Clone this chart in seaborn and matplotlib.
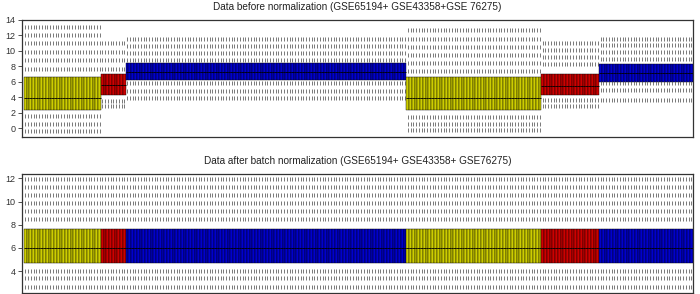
import numpy as np
import pandas as pd
import seaborn as sns
import matplotlib.pyplot as plt

# ---- data ----
seg_names = ["seg0", "seg1", "seg2", "seg3", "seg4", "seg5"]
seg_colors = ["#CDCD00", "#CD0000", "#0000CD", "#CDCD00", "#CD0000", "#0000CD"]
seg_counts = [28, 9, 102, 49, 21, 34]

before_q1 = [2.35, 4.28, 6.2, 2.33, 4.28, 6.0]
before_med = [3.95, 5.58, 7.3, 3.93, 5.45, 7.17]
before_q3 = [6.65, 7.0, 8.4, 6.57, 7.0, 8.3]
before_high = [
    [7.7, 8.8, 9.9, 11.0, 12.05, 13.1],
    [7.7, 8.8, 9.9, 11.0],
    [8.8, 9.7, 10.6, 11.5],
    [7.4, 8.4, 9.5, 10.5, 11.6, 12.7],
    [8.3, 9.2, 10.1, 11.0],
    [9.0, 9.9, 10.8, 11.6],
]
before_low = [
    [1.6, 0.5, -0.4],
    [3.5, 2.8],
    [5.9, 4.85, 3.9],
    [1.5, 0.5, -0.3],
    [3.6, 2.8],
    [5.9, 4.9, 3.7],
]

after_q1 = [4.68] * 6
after_med = [5.97] * 6
after_q3 = [7.64] * 6
after_high = [[8.5, 9.19, 9.85, 10.57, 11.23, 11.92]] * 6
after_low = [[4.04, 3.39, 2.66]] * 6

title_before = "Data before normalization (GSE65194+ GSE43358+GSE 76275)"
title_after = "Data after batch normalization (GSE65194+ GSE43358+ GSE76275)"
yticks_before = [0, 2, 4, 6, 8, 10, 12, 14]
yticks_after = [4, 6, 8, 10, 12]


def build(q1s, meds, q3s, highs, lows):
    rows = []
    idx = 0
    for s, n in enumerate(seg_counts):
        for _ in range(n):
            vals = (list(lows[s]) + [q1s[s]] * 40 + [meds[s]] * 40
                    + [q3s[s]] * 40 + list(highs[s]))
            sid = f"S{idx:03d}"
            for v in vals:
                rows.append((sid, seg_names[s], v))
            idx += 1
    return pd.DataFrame(rows, columns=["sample", "seg", "value"])


df_before = build(before_q1, before_med, before_q3, before_high, before_low)
df_after = build(after_q1, after_med, after_q3, after_high, after_low)
n_samples = sum(seg_counts)

sns.set_theme(style="white")
plt.rcParams['font.family'] = ['Liberation Sans', 'DejaVu Sans']

fig = plt.figure(figsize=(7.0, 2.94), dpi=100)
ax1 = fig.add_axes([0.031, 0.534, 0.959, 0.398])
ax2 = fig.add_axes([0.031, 0.003, 0.959, 0.405])

pal = dict(zip(seg_names, seg_colors))

for ax, df, title, yt, ylim, pad in [
    (ax1, df_before, title_before, yticks_before, (-1.15, 14.0), 7.0),
    (ax2, df_after, title_after, yticks_after, (2.1, 12.38), 7.5),
]:
    sns.boxplot(
        data=df, x="sample", y="value", hue="seg", palette=pal,
        dodge=False, width=1.0, whis=0, saturation=1,
        linecolor="black", linewidth=0.3, showcaps=False,
        flierprops=dict(marker="|", markersize=2.4, markeredgewidth=0.55,
                        markeredgecolor="#555555", markerfacecolor="none"),
        medianprops=dict(color="black", linewidth=0.6),
        whiskerprops=dict(linewidth=0),
        legend=False, ax=ax,
    )
    ax.set_xlim(-1.3, n_samples - 0.4)
    ax.set_ylim(*ylim)
    ax.set_xticks([])
    ax.set_yticks(yt)
    ax.set_xlabel("")
    ax.set_ylabel("")
    ax.tick_params(axis="y", left=True, length=3, width=0.6, labelsize=6.5,
                   pad=1.5, colors="#333333")
    for sp in ax.spines.values():
        sp.set_visible(True)
        sp.set_color("#333333")
        sp.set_linewidth(0.9)
    ax.set_title(title, fontsize=7.2, pad=pad, color="#222222")

fig.savefig("out.png", dpi=100)
